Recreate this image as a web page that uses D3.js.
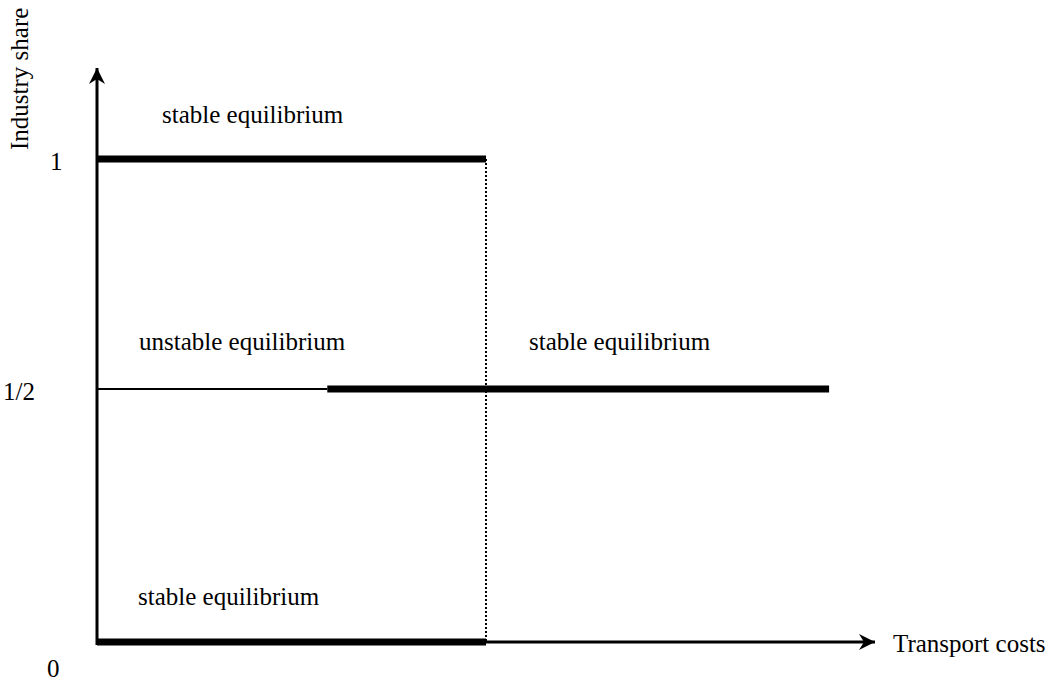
<!DOCTYPE html>
<html>
<head>
<meta charset="utf-8">
<script src="https://cdn.jsdelivr.net/npm/d3@7"></script>
<style>
  html, body { margin: 0; padding: 0; background: #fff; }
  svg { display: block; }
  text { font-family: "Liberation Serif", "Times New Roman", serif; font-size: 25px; fill: #000; }
</style>
</head>
<body>
<svg id="chart" width="1050" height="682"></svg>
<script>
// ---- data ----
const xAxisMax = 100;            // transport costs (arbitrary units)
const sustainPoint = 29.6;       // where symmetric becomes stable
const breakPoint = 50;           // where agglomeration stops being stable
const halfLineEnd = 94.1;
const yTickValues = [0, 0.5, 1];
const yTickLabels = ["0", "1/2", "1"];
const yAxisMax = 1.2;
// segments: [x0, x1, share, kind]
const segX0 = [0, 0, 0, sustainPoint];
const segX1 = [breakPoint, breakPoint, sustainPoint, halfLineEnd];
const segY  = [1, 0, 0.5, 0.5];
const segKind = ["stable", "stable", "unstable", "stable"];
const regionLabels = ["stable equilibrium", "unstable equilibrium", "stable equilibrium", "stable equilibrium"];
const axisTitles = ["Transport costs", "Industry share"];

// ---- scales ----
const x = d3.scaleLinear().domain([0, xAxisMax]).range([97, 875]);
const y = d3.scaleLinear().domain([0, 0.5, 1, yAxisMax]).range([642, 389, 159, 68]);

const svg = d3.select("#chart");

// arrow marker
const defs = svg.append("defs");
defs.append("marker")
  .attr("id", "arrow")
  .attr("viewBox", "0 0 16 16")
  .attr("refX", 16).attr("refY", 8)
  .attr("markerWidth", 16).attr("markerHeight", 16)
  .attr("markerUnits", "userSpaceOnUse")
  .attr("orient", "auto")
  .append("path")
  .attr("d", "M0,0 L16,8 L0,16 L5,8 Z")
  .attr("fill", "#000");

// dotted vertical at break point
svg.append("line")
  .attr("x1", x(breakPoint)).attr("x2", x(breakPoint))
  .attr("y1", y(1)).attr("y2", y(0))
  .attr("stroke", "#000").attr("stroke-width", 2)
  .attr("stroke-dasharray", "2,2");

// axes
svg.append("line")
  .attr("x1", x(0)).attr("x2", x(xAxisMax))
  .attr("y1", y(0)).attr("y2", y(0))
  .attr("stroke", "#000").attr("stroke-width", 3)
  .attr("marker-end", "url(#arrow)");
svg.append("line")
  .attr("x1", x(0)).attr("x2", x(0))
  .attr("y1", y(0) + 3).attr("y2", y(yAxisMax))
  .attr("stroke", "#000").attr("stroke-width", 3)
  .attr("marker-end", "url(#arrow)");

// equilibrium segments
const segs = segX0.map((d, i) => ({x0: d, x1: segX1[i], y: segY[i], kind: segKind[i]}));
svg.selectAll("line.seg").data(segs).enter().append("line")
  .attr("class", "seg")
  .attr("x1", d => x(d.x0)).attr("x2", d => x(d.x1))
  .attr("y1", d => y(d.y)).attr("y2", d => y(d.y))
  .attr("stroke", "#000")
  .attr("stroke-width", d => d.kind === "stable" ? 7 : 2);

// y tick labels
const tickPos = [[47, 677], [3, 400], [50, 170]];
svg.selectAll("text.tick").data(yTickValues).enter().append("text")
  .attr("class", "tick")
  .attr("x", (d, i) => tickPos[i][0])
  .attr("y", (d, i) => tickPos[i][1])
  .text((d, i) => yTickLabels[i]);

// region labels
const labelPos = [[162, 123], [139, 350], [529, 350], [138, 605]];
svg.selectAll("text.region").data(regionLabels).enter().append("text")
  .attr("class", "region")
  .attr("x", (d, i) => labelPos[i][0])
  .attr("y", (d, i) => labelPos[i][1])
  .text(d => d);

// axis titles
svg.append("text").attr("x", 893).attr("y", 652).text(axisTitles[0]);
svg.append("text")
  .attr("transform", "translate(28,150) rotate(-90)")
  .text(axisTitles[1]);
</script>
</body>
</html>
